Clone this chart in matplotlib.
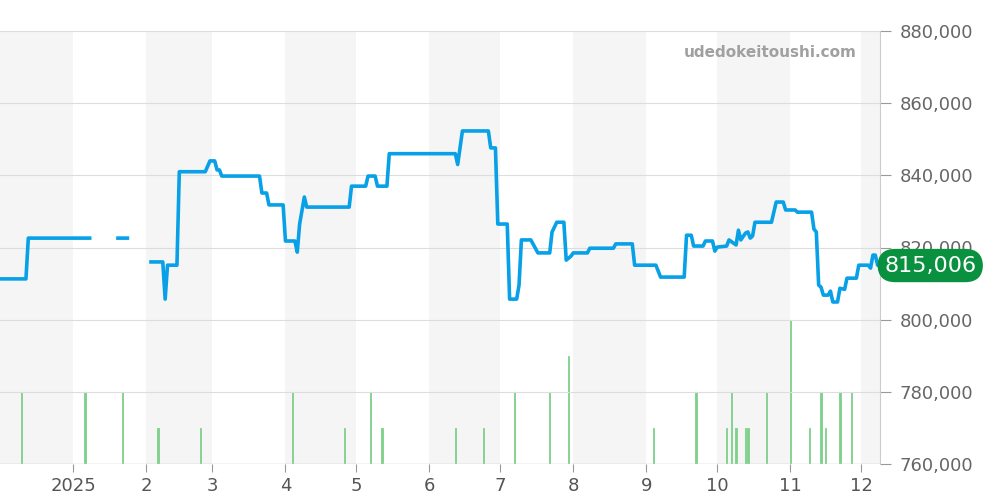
import datetime as dt

import matplotlib

matplotlib.use("Agg")
import matplotlib.pyplot as plt
import numpy as np

START = dt.date(2024, 12, 1)

# price series: days since 2024-12-01, price (NaN = gap)
price_days = [0, 11, 12, 38, 39, 50, 54, 55, 64, 69, 70, 71, 75, 76, 87, 89, 91, 92, 93, 94,
              110, 111, 113, 114, 120, 121, 125, 126, 127, 129, 130, 148, 149, 155, 156, 159,
              160, 164, 165, 193, 194, 196, 207, 208, 210, 211, 215, 216, 219, 220, 221, 225,
              228, 233, 234, 236, 239, 240, 242, 243, 249, 250, 260, 261, 268, 269, 278, 280,
              290, 291, 293, 294, 298, 299, 302, 303, 304, 308, 309, 312, 313, 314, 316, 317,
              318, 319, 320, 327, 329, 332, 333, 337, 338, 344, 345, 346, 347, 348, 349, 351,
              352, 353, 355, 356, 358, 359, 363, 364, 368, 369, 370, 371, 372, 373]
prices = [811300, 811300, 822600, 822600, np.nan, 822600, 822600, np.nan, 816000, 816000,
          805700, 815100, 815100, 841000, 841000, 844000, 844000, 841500, 841500, 839800,
          839800, 835100, 835100, 831800, 831800, 821800, 821800, 818700, 826500, 834000,
          831200, 831200, 837000, 837000, 839800, 839800, 837000, 837000, 846000, 846000,
          843000, 852300, 852300, 847600, 847600, 826500, 826500, 805700, 805700, 809600,
          822100, 822100, 818500, 818500, 824300, 827000, 827000, 816500, 817600, 818500,
          818500, 819800, 819800, 821000, 821000, 815100, 815100, 811800, 811800, 823400,
          823400, 820400, 820400, 821800, 821800, 819000, 820100, 820400, 822100, 820700,
          824800, 822100, 824000, 824300, 822600, 823200, 827000, 827000, 832600, 832600,
          830400, 830400, 829800, 829800, 825100, 824300, 809600, 809000, 806800, 806800,
          807900, 804900, 804900, 808700, 808400, 811500, 811500, 815100, 815100, 814300,
          817900, 817900, 815100, 815006]

# trade counts
volume_days = [9, 36, 52, 67, 85, 124, 146, 157, 162, 193, 205, 218, 233, 241, 277, 295,
               308, 310, 312, 316, 317, 325, 335, 343, 348, 350, 356, 361]
volume_counts = [2, 2, 2, 1, 1, 2, 1, 2, 1, 1, 1, 2, 2, 3, 1, 2, 1, 2, 1, 1, 1, 2, 4, 1, 2,
                 1, 2, 2]

last_price = 815006
x_end = START + dt.timedelta(days=373)


def to_dates(days):
    return [START + dt.timedelta(days=d) for d in days]


fig = plt.figure(figsize=(10, 5), dpi=100)
ax = fig.add_axes([0.0, 0.072, 0.88, 0.866])
vax = ax.twinx()

# alternating month shading (on the volume axes, underneath the bars)
month = dt.date(2024, 12, 1)
while month < x_end:
    nxt = dt.date(month.year + month.month // 12, month.month % 12 + 1, 1)
    if month.month % 2 == 0:
        vax.axvspan(month, min(nxt, x_end), color="#f5f5f5", zorder=0, lw=0)
    month = nxt

ax.plot(to_dates(price_days), prices, color="#08a0e6", lw=2.6, zorder=3)
vax.bar(to_dates(volume_days), volume_counts, width=0.6, color="#7fd08c", lw=0.6,
        edgecolor="#7fd08c", zorder=2)
vax.set_ylim(0, 12)
vax.axis("off")
ax.set_zorder(vax.get_zorder() + 1)
ax.patch.set_visible(False)

ax.set_xlim(START, x_end)
ax.set_ylim(760000, 880000)
ax.yaxis.tick_right()
ax.set_yticks(range(760000, 880001, 20000))
ax.yaxis.set_major_formatter(matplotlib.ticker.FuncFormatter(lambda v, _: f"{int(v):,}"))
ax.grid(axis="y", color="#dddddd", lw=0.8)
ax.tick_params(axis="y", length=8, color="#999999", labelsize=13, labelcolor="#666666", pad=6)

ticks = [dt.date(2025, m, 1) for m in range(1, 13)]
ax.set_xticks(ticks)
ax.set_xticklabels(["2025"] + [str(m) for m in range(2, 13)])
ax.tick_params(axis="x", length=6, color="#999999", labelsize=13, labelcolor="#555555")
for s in ["top", "left", "bottom"]:
    ax.spines[s].set_visible(False)
ax.spines["right"].set_color("#cccccc")
ax.axhline(760000, color="#cccccc", lw=1, zorder=1)

ax.text(0.973, 0.95, "udedokeitoushi.com", transform=ax.transAxes, ha="right", va="center",
        fontsize=11, fontweight="bold", color="#a0a0a0")
ax.annotate(f"{last_price:,}", xy=(1.0, last_price), xycoords=("axes fraction", "data"),
            xytext=(3, 0), textcoords="offset points", ha="left", va="center",
            fontsize=16, color="white", annotation_clip=False,
            bbox=dict(boxstyle="round,pad=0.3,rounding_size=0.8", fc="#0a9140", ec="none"))

fig.savefig("out.png", dpi=100)
